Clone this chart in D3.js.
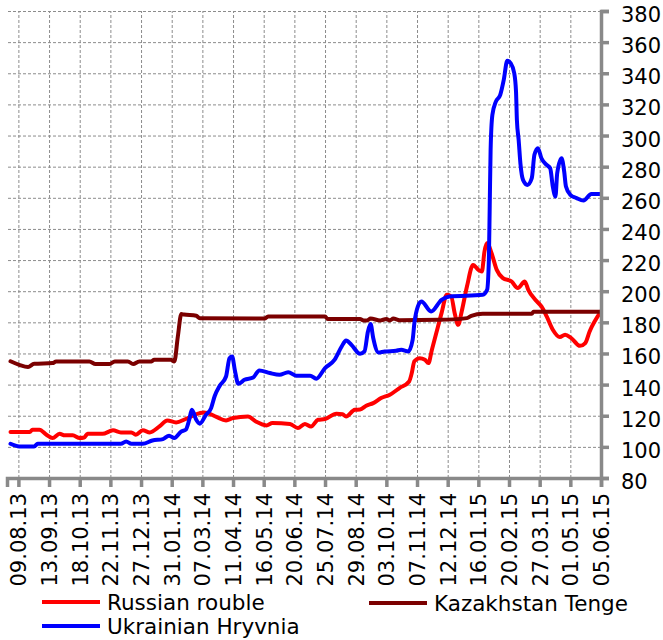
<!DOCTYPE html>
<html>
<head>
<meta charset="utf-8">
<script src="https://cdn.jsdelivr.net/npm/d3@7/dist/d3.min.js"></script>
<style>
  body { margin: 0; background: #fff; }
  svg { display: block; }
  text { font-family: "DejaVu Sans", sans-serif; fill: #000; }
</style>
</head>
<body>
<div id="chart"></div>
<script>
// index values
var seriesNames = ["Russian rouble", "Kazakhstan Tenge", "Ukrainian Hryvnia"];

var rub = [["2013-07-31",109.5],["2013-08-22",109.5],["2013-08-25",111],["2013-09-02",111],["2013-09-10",107.8],["2013-09-17",105.7],["2013-09-25",108.4],["2013-10-01",107.4],["2013-10-10",107.4],["2013-10-18",105.7],["2013-10-23",106],["2013-10-27",108.4],["2013-11-13",108.4],["2013-11-25",110.6],["2013-12-04",109.3],["2013-12-16",109.3],["2013-12-21",107.8],["2013-12-29",110.6],["2014-01-06",109.3],["2014-01-17",113.1],["2014-01-26",117],["2014-02-05",115.7],["2014-02-16",117.9],["2014-03-04",121.7],["2014-03-09",122.1],["2014-03-13",121.7],["2014-03-23",119.2],["2014-04-03",117],["2014-04-11",118.5],["2014-04-28",119.5],["2014-05-07",116.3],["2014-05-19",113.8],["2014-05-26",115.3],["2014-06-15",114.7],["2014-06-24",112.1],["2014-07-02",114.7],["2014-07-09",113.1],["2014-07-17",117.4],["2014-07-25",117.9],["2014-08-07",121.3],["2014-08-14",121],["2014-08-18",119.5],["2014-08-28",123.8],["2014-09-03",124],["2014-09-10",126.4],["2014-09-18",128.1],["2014-09-27",131.4],["2014-10-07",133.5],["2014-10-18",137.8],["2014-10-29",142],["2014-11-01",147.4],["2014-11-04",155],["2014-11-10",157],["2014-11-16",156],["2014-11-20",153.8],["2014-11-24",162.4],["2014-11-29",173.1],["2014-12-05",185.9],["2014-12-11",197.7],["2014-12-16",196.6],["2014-12-20",185.9],["2014-12-24",178.4],["2014-12-28",187],["2015-01-03",203],["2015-01-10",216.9],["2015-01-16",213.7],["2015-01-20",212.6],["2015-01-23",225.5],["2015-01-26",230.9],["2015-01-31",224.5],["2015-02-06",213.7],["2015-02-13",208.4],["2015-02-23",206.2],["2015-03-02",202],["2015-03-10",206.2],["2015-03-14",200.9],["2015-03-22",194.5],["2015-03-29",190.2],["2015-04-04",183.8],["2015-04-11",175.2],["2015-04-19",170.5],["2015-04-25",172],["2015-05-02",169.9],["2015-05-12",164.9],["2015-05-18",166.7],["2015-05-23",174.1],["2015-06-05",187]];

var kzt = [["2013-07-31",155],["2013-08-10",152.7],["2013-08-20",151.3],["2013-08-27",153.4],["2013-09-17",153.8],["2013-09-21",154.9],["2013-10-29",154.9],["2013-11-05",153.2],["2013-11-21",153.2],["2013-11-27",154.9],["2013-12-12",154.9],["2013-12-18",153.2],["2013-12-25",154.9],["2014-01-08",154.9],["2014-01-11",156],["2014-01-30",156],["2014-02-03",154.9],["2014-02-07",170.9],["2014-02-11",185.3],["2014-02-14",185],["2014-02-28",184.2],["2014-03-04",182.7],["2014-05-17",182.4],["2014-05-21",183.8],["2014-07-25",183.8],["2014-07-28",182.1],["2014-09-03",182.1],["2014-09-07",181.2],["2014-09-11",181.2],["2014-09-15",182.4],["2014-09-26",181.2],["2014-10-03",182.1],["2014-10-07",181.2],["2014-10-11",182.4],["2014-10-18",181.4],["2014-12-03",181.6],["2015-01-03",182.7],["2015-01-08",184.2],["2015-01-21",185.5],["2015-03-18",185.5],["2015-03-20",186.8],["2015-06-05",186.8]];

var uah = [["2013-07-31",102],["2013-08-10",100.3],["2013-08-27",100.3],["2013-08-31",102],["2013-12-04",102],["2013-12-10",103.5],["2013-12-16",102],["2013-12-29",102],["2014-01-09",104.1],["2014-01-21",105],["2014-01-28",107.2],["2014-02-03",105.7],["2014-02-11",109.9],["2014-02-16",111],["2014-02-20",117.4],["2014-02-23",123.8],["2014-02-28",117.4],["2014-03-04",114.9],["2014-03-11",120.5],["2014-03-17",124.9],["2014-03-21",132.5],["2014-03-27",139.4],["2014-04-03",145.2],["2014-04-07",157],["2014-04-10",158.1],["2014-04-13",149.5],["2014-04-17",140.5],["2014-04-24",143.1],["2014-05-04",144.6],["2014-05-11",149.1],["2014-05-23",147.4],["2014-06-03",146.3],["2014-06-13",148],["2014-06-22",145.7],["2014-07-08",145.7],["2014-07-15",143.8],["2014-07-25",150.6],["2014-08-05",156],["2014-08-13",164.5],["2014-08-18",168.3],["2014-08-24",165.6],["2014-09-03",159.8],["2014-09-08",161.3],["2014-09-12",174.1],["2014-09-15",178.9],["2014-09-18",169.9],["2014-09-24",160.6],["2014-10-01",161.3],["2014-10-14",161.7],["2014-10-20",162.4],["2014-10-28",161.3],["2014-11-02",168.8],["2014-11-04",179.5],["2014-11-08",190.2],["2014-11-12",193.4],["2014-11-23",187],["2014-12-05",194.5],["2014-12-14",196.6],["2015-01-21",197.7],["2015-01-26",200.9],["2015-01-28",220],["2015-01-29",255],["2015-01-30",290.8],["2015-02-01",313.2],["2015-02-05",321.8],["2015-02-10",326.1],["2015-02-14",335.7],["2015-02-18",348.1],["2015-02-22",346.4],["2015-02-26",340],["2015-02-28",328.2],["2015-03-01",310],["2015-03-03",297.2],["2015-03-05",282.2],["2015-03-08",271.5],["2015-03-13",268.3],["2015-03-18",272.6],["2015-03-21",287.6],["2015-03-25",291.9],["2015-03-29",285.4],["2015-04-04",281.1],["2015-04-08",279],["2015-04-11",267.2],["2015-04-14",260.8],["2015-04-16",275.8],["2015-04-21",285.4],["2015-04-24",276.8],["2015-04-26",267.2],["2015-05-01",261.9],["2015-05-08",259.8],["2015-05-16",258.2],["2015-05-25",262.5],["2015-06-05",262.5]];

var tickDates = ["2013-08-09","2013-09-13","2013-10-18","2013-11-22","2013-12-27","2014-01-31","2014-03-07","2014-04-11","2014-05-16","2014-06-20","2014-07-25","2014-08-29","2014-10-03","2014-11-07","2014-12-12","2015-01-16","2015-02-20","2015-03-27","2015-05-01","2015-06-05"];
var yTicks = [80,100,120,140,160,180,200,220,240,260,280,300,320,340,360,380];

var colors = ["#ff0000", "#7b0000", "#0000ff"];

var width = 663, height = 640;
var parse = d3.timeParse("%Y-%m-%d");
var fmt = d3.timeFormat("%d.%m.%y");

var x = d3.scaleTime()
    .domain([parse("2013-07-27"), parse("2015-06-05")])
    .range([7, 601]);
var y = d3.scaleLinear()
    .domain([80, 380])
    .range([478, 11]);

var svg = d3.select('#chart')
    .append('svg')
    .attr('width', width)
    .attr('height', height);

// dashed grid
var gridY = svg.append('g')
    .attr('transform', 'translate(601,0)')
    .call(d3.axisLeft(y).tickValues(yTicks.slice(1)).tickSize(594).tickFormat(''));
var gridX = svg.append('g')
    .attr('transform', 'translate(0,478)')
    .call(d3.axisTop(x).tickValues(tickDates.map(parse)).tickSize(467).tickFormat(''));
svg.selectAll('.tick line')
    .attr('stroke', '#8c8c8c')
    .attr('stroke-width', 1)
    .attr('stroke-dasharray', '3,2');
gridY.select('.domain').remove();
gridX.select('.domain').remove();

// series
var line = d3.line()
    .x(function(d){ return x(parse(d[0])); })
    .y(function(d){ return y(d[1]); })
    .curve(d3.curveMonotoneX);

[rub, kzt, uah].forEach(function(s, i){
  svg.append('path')
    .datum(s)
    .attr('d', line)
    .attr('fill', 'none')
    .attr('stroke', colors[i])
    .attr('stroke-width', 4)
    .attr('stroke-linejoin', 'round')
    .attr('stroke-linecap', 'round');
});

// axes
var yAxis = svg.append('g')
    .attr('transform', 'translate(601,0)')
    .call(d3.axisRight(y).tickValues(yTicks).tickSize(8).tickPadding(12));
var xAxis = svg.append('g')
    .attr('transform', 'translate(0,478)')
    .call(d3.axisBottom(x).tickValues(tickDates.map(parse)).tickFormat(fmt).tickSize(9).tickPadding(6));

[yAxis, xAxis].forEach(function(a){
  a.select('.domain').attr('stroke', '#898989').attr('stroke-width', 3.5);
  a.selectAll('.tick line').attr('stroke', '#898989').attr('stroke-width', 3.5);
  a.selectAll('text').style('font-size', '21px').attr('fill', '#000');
});
yAxis.selectAll('text').attr('dy', '0.5em');
xAxis.selectAll('text')
    .attr('transform', 'rotate(-90)')
    .attr('text-anchor', 'end')
    .attr('x', -15)
    .attr('y', 0)
    .attr('dy', '0.36em');

// legend
var legendPos = [[42, 602], [369, 603], [42, 626]];
seriesNames.forEach(function(n, i){
  var g = svg.append('g').attr('transform', 'translate(' + legendPos[i][0] + ',' + legendPos[i][1] + ')');
  g.append('line').attr('x1', 0).attr('x2', 58).attr('y1', 0).attr('y2', 0)
    .attr('stroke', colors[i]).attr('stroke-width', 4);
  g.append('text').attr('x', 65).attr('y', 8).style('font-size', '21.5px').text(n);
});
</script>
</body>
</html>
